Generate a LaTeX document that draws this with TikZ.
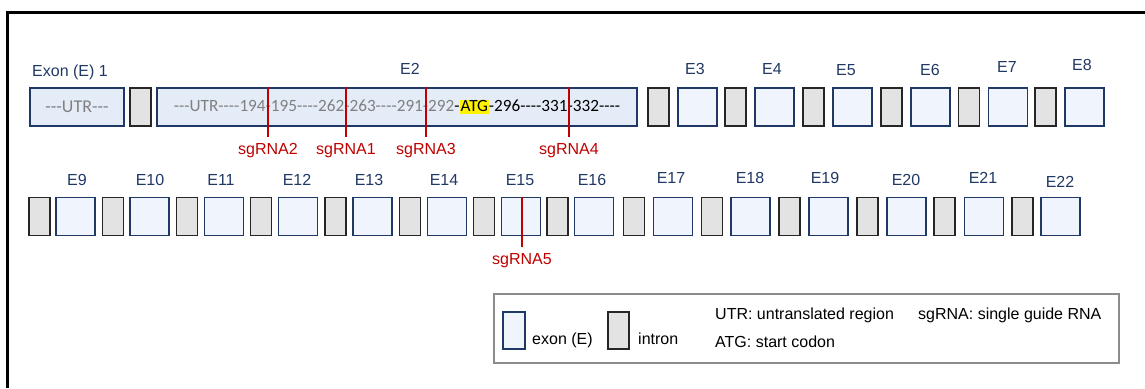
\documentclass[tikz,border=0pt]{standalone}
\usepackage{fontspec}
\setmainfont{Liberation Sans}
\newfontfamily\seqfont{Carlito}[Ligatures=TeXOff]
\usetikzlibrary{positioning}
\definecolor{exonblue}{HTML}{203864}
\definecolor{exonfill}{HTML}{F0F4FC}
\definecolor{utrfill}{HTML}{E4ECF7}
\definecolor{introngray}{HTML}{E3E3E3}
\definecolor{sgred}{HTML}{C00000}
\definecolor{seqgray}{HTML}{808080}
\definecolor{legendgray}{HTML}{8C8C8C}
\tikzset{
  exon/.style={draw=exonblue, fill=exonfill, line width=1.3pt, minimum width=39pt, minimum height=38pt, inner sep=0pt},
  intron/.style={draw=black!85, fill=introngray, line width=1.5pt, minimum width=21pt, minimum height=38pt, inner sep=0pt},
  elabel/.style={text=exonblue, font=\fontsize{16}{19}\selectfont, inner sep=0pt},
  sglabel/.style={text=sgred, font=\fontsize{16}{19}\selectfont, inner sep=0pt},
  sgline/.style={draw=sgred, line width=1.4pt},
  legtext/.style={font=\fontsize{16}{19}\selectfont, inner sep=0pt, anchor=base west},
}

\begin{document}
\begin{tikzpicture}[x=1pt, y=-1pt]
  \useasboundingbox (0,0) rectangle (1145,388);
  % Frame (cut by the page right and bottom)
  \draw[line width=3pt] (7.5,388) -- (7.5,12) -- (1145,12);

  % Exon 1, intron, exon 2
  \node[exon, fill=utrfill, minimum width=94pt] (e1) at (77,107)
    {\seqfont\fontsize{18}{20}\selectfont\textcolor{seqgray}{---UTR---}};
  \node[elabel, anchor=base] (l1) at (70,76.5) {Exon (E) 1};
  \node[intron] (i2) at (140.5,107) {};
  \node[exon, fill=utrfill, minimum width=480pt] (e2) at (397,107)
    {\seqfont\fontsize{17.2}{20}\selectfont\textcolor{seqgray}{---UTR----194-195----262-263----291-292}-{\fboxsep=1pt\colorbox{yellow}{\rule[-1.5pt]{0pt}{12.5pt}ATG}}-296----331-332----};
  \node[elabel] (l2) at (410,69) {E2};

  % sgRNAs in exon 2
  \node[sglabel] (sg2) at (268,150.5) {sgRNA2};
  \node[sglabel] (sg1) at (346,150.5) {sgRNA1};
  \node[sglabel] (sg3) at (426,150.5) {sgRNA3};
  \node[sglabel] (sg4) at (569,150.5) {sgRNA4};
  \foreach \s in {sg2,sg1,sg3,sg4}
    \draw[sgline] (e2.north -| \s.north) -- ([yshift=6pt]\s.north);

  % Exons 3-8 (first row)
  \foreach \i/\x/\lx/\ly in {3/697.5/695/69, 4/774.5/772/69, 5/852.5/846/70,
      6/930.5/930/70, 7/1008/1007/67, 8/1084.5/1082/65} {
    \node[intron] (i\i) at (\x-39,107) {};
    \node[exon] (e\i) at (\x,107) {};
    \node[elabel] (l\i) at (\lx,\ly) {E\i};
  }

  % Exons 9-22 (second row)
  \foreach \i/\x/\ix/\lx/\ly in {9/75.5/39.5/77/180, 10/149.6/112.8/150/180,
      11/224.2/187/221/180, 12/298/261/297/180, 13/372.5/335.3/369/180,
      14/446.9/410/444/180, 15/520.9/484.2/520/180, 16/594/557.5/592/180,
      17/673/634/671/178, 18/750.5/712/750/178, 19/828.5/789.5/825/178,
      20/906.5/867.5/906/180, 21/984/944.5/983/178, 22/1060.5/1022.5/1060/182} {
    \node[intron] (i\i) at (\ix,216.5) {};
    \node[exon] (e\i) at (\x,216.5) {};
    \node[elabel] (l\i) at (\lx,\ly) {E\i};
  }

  % sgRNA in exon 15
  \node[sglabel] (sg5) at (522,261) {sgRNA5};
  \draw[sgline] (e15.north -| sg5.north) -- ([yshift=7pt]sg5.north);

  % Legend
  \node[draw=legendgray, line width=2pt, fill=white, minimum width=625pt, minimum height=69pt, inner sep=0pt] (legend) at (806.5,328.5) {};
  \node[exon, minimum width=22pt, minimum height=37pt] (legexon) at (514,330.5) {};
  \node[legtext] (legexontxt) at (532,344) {exon (E)};
  \node[intron, minimum height=37pt] (legintron) at (618.5,330.5) {};
  \node[legtext] (legintrontxt) at (638,344) {intron};
  \node[legtext] (legutr) at (715,319.5) {UTR: untranslated region};
  \node[legtext] (legsg) at (918,319.5) {sgRNA: single guide RNA};
  \node[legtext] (legatg) at (715,347.5) {ATG: start codon};
\end{tikzpicture}
\end{document}
